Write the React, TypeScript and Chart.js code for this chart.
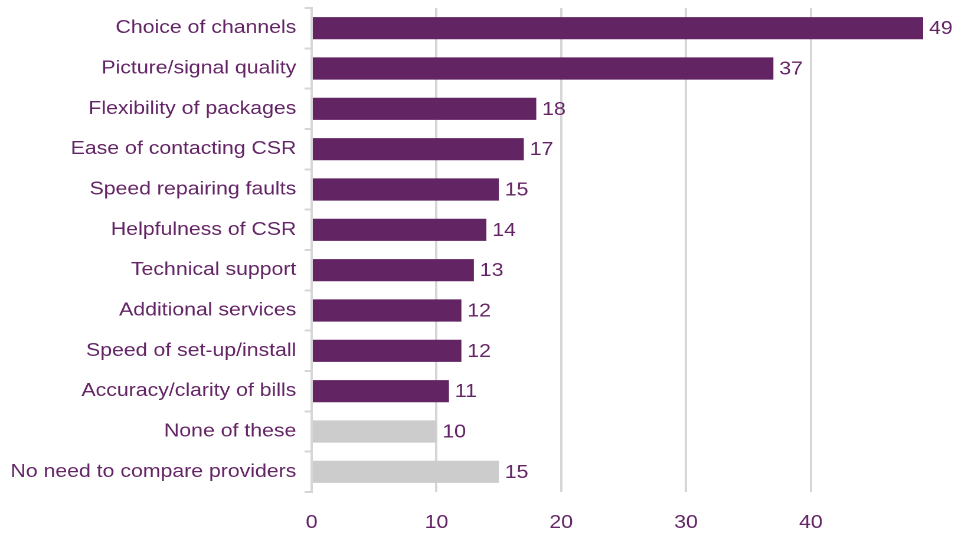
import { useEffect, useRef } from "react";
import { Chart, registerables } from "chart.js";

Chart.register(...registerables);

const categories = [
  "Choice of channels",
  "Picture/signal quality",
  "Flexibility of packages",
  "Ease of contacting CSR",
  "Speed repairing faults",
  "Helpfulness of CSR",
  "Technical support",
  "Additional services",
  "Speed of set-up/install",
  "Accuracy/clarity of bills",
  "None of these",
  "No need to compare providers",
];
const values = [49, 37, 18, 17, 15, 14, 13, 12, 12, 11, 10, 15];
const neutralCategories = ["None of these", "No need to compare providers"];
const xTickValues = [0, 10, 20, 30, 40];
const xMax = 49;

const PURPLE = "#622463";
const GREY = "#cccccc";
const GRID = "#d6d6d6";
const TEXT = "#642566";
const FONT = '"Liberation Sans", Arial, sans-serif';

const INNER_W = 809;
const INNER_H = 534;
const SX = 955 / INNER_W;

export default function App() {
  const ref = useRef<HTMLCanvasElement>(null);

  useEffect(() => {
    document.body.style.overflow = "hidden";
    const labelPlugin = {
      id: "valueLabels",
      afterDatasetsDraw(chart: any) {
        const ctx = chart.ctx;
        const meta = chart.getDatasetMeta(0);
        ctx.save();
        ctx.font = `18px ${FONT}`;
        ctx.fillStyle = TEXT;
        ctx.textAlign = "left";
        ctx.textBaseline = "middle";
        meta.data.forEach((el: any, i: number) => {
          ctx.fillText(String(values[i]), el.x + 5, el.y + 1);
        });
        ctx.restore();
      },
    };

    const chart = new Chart(ref.current as HTMLCanvasElement, {
      type: "bar",
      data: {
        labels: categories,
        datasets: [
          {
            data: values,
            backgroundColor: categories.map((c) =>
              neutralCategories.includes(c) ? GREY : PURPLE
            ),
            barPercentage: 0.55,
            categoryPercentage: 1,
          },
        ],
      },
      options: {
        indexAxis: "y",
        responsive: false,
        animation: false,
        devicePixelRatio: 2,
        layout: { padding: { top: 8, right: 27, bottom: 2, left: 0 } },
        plugins: {
          legend: { display: false },
          tooltip: { enabled: false },
        },
        scales: {
          x: {
            min: 0,
            max: xMax,
            afterBuildTicks: (s: any) => {
              s.ticks = xTickValues.map((v) => ({ value: v }));
            },
            afterFit: (s: any) => {
              s.paddingLeft = 0;
              s.paddingRight = 0;
              s.paddingTop = 0;
              s.paddingBottom = 0;
              s.height = 40;
            },
            grid: { color: GRID, lineWidth: 2, drawTicks: false },
            border: { display: false },
            ticks: {
              padding: 20,
              color: TEXT,
              font: { family: FONT, size: 18 },
            },
          },
          y: {
            afterFit: (s: any) => {
              s.width = 264;
              s.paddingTop = 0;
              s.paddingBottom = 0;
            },
            grid: {
              offset: true,
              drawOnChartArea: false,
              tickLength: 6,
              color: GRID,
              lineWidth: 2,
            },
            border: { color: GRID, width: 2 },
            ticks: {
              padding: 7,
              color: TEXT,
              font: { family: FONT, size: 18 },
            },
          },
        },
      },
      plugins: [labelPlugin],
    } as any);

    return () => chart.destroy();
  }, []);

  return (
    <div
      style={{
        position: "absolute",
        left: 0,
        top: 0,
        width: INNER_W,
        height: INNER_H,
        transform: `scaleX(${SX})`,
        transformOrigin: "0 0",
      }}
    >
      <canvas
        ref={ref}
        width={INNER_W}
        height={INNER_H}
        style={{ width: INNER_W, height: INNER_H, display: "block" }}
      />
    </div>
  );
}
